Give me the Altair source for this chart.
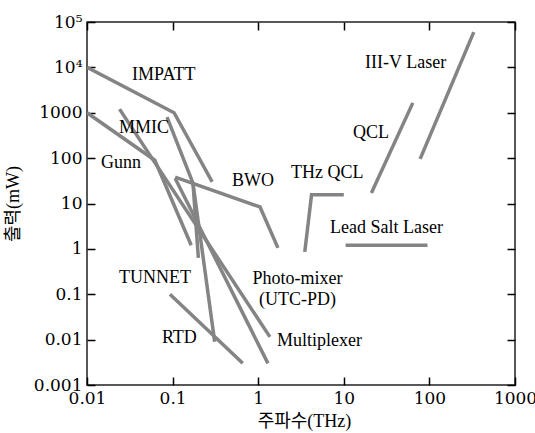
import altair as alt
import pandas as pd

# ---- data (frequency in THz, output power in mW) ----
IMPATT_F = [0.01, 0.104, 0.29]
IMPATT_P = [10000, 1000, 30]
GUNN_F = [0.01, 0.062, 0.165]
GUNN_P = [1000, 90, 1.2]
MULT_F = [0.024, 1.37]
MULT_P = [1200, 0.0115]
MMIC_F = [0.086, 0.173, 0.2]
MMIC_P = [800, 28, 0.63]
BWO_F = [0.107, 1.05, 1.7]
BWO_P = [38, 8.4, 1.05]
PHOTO_F = [0.107, 1.3]
PHOTO_P = [36, 0.003]
RTD_F = [0.173, 0.31]
RTD_P = [28, 0.009]
TUNNET_F = [0.093, 0.66]
TUNNET_P = [0.1, 0.003]
THZQCL_F = [3.5, 4.2, 10]
THZQCL_P = [0.86, 15.5, 15.5]
LEAD_F = [10.5, 95]
LEAD_P = [1.2, 1.2]
QCL_F = [21, 64]
QCL_P = [17, 1650]
IIIV_F = [78, 330]
IIIV_P = [96, 60000]

SERIES = [
    ("IMPATT", IMPATT_F, IMPATT_P),
    ("Gunn", GUNN_F, GUNN_P),
    ("Multiplexer", MULT_F, MULT_P),
    ("MMIC", MMIC_F, MMIC_P),
    ("BWO", BWO_F, BWO_P),
    ("Photo-mixer", PHOTO_F, PHOTO_P),
    ("RTD", RTD_F, RTD_P),
    ("TUNNET", TUNNET_F, TUNNET_P),
    ("THz QCL", THZQCL_F, THZQCL_P),
    ("Lead Salt Laser", LEAD_F, LEAD_P),
    ("QCL", QCL_F, QCL_P),
    ("III-V Laser", IIIV_F, IIIV_P),
]

# left-aligned labels
LBL_TEXT = ["IMPATT", "MMIC", "Gunn", "BWO", "THz QCL", "III-V Laser", "QCL",
            "Lead Salt Laser", "Multiplexer", "TUNNET", "RTD"]
LBL_F = [0.0336, 0.0236, 0.0146, 0.494, 2.42, 17.7, 12.8, 6.9, 1.66, 0.0236, 0.075]
LBL_P = [6800, 462, 78, 31.5, 47, 12500, 359, 2.9, 0.0094, 0.23, 0.011]
# centered labels
CLBL_TEXT = ["Photo-mixer", "(UTC-PD)"]
CLBL_F = [2.88, 2.88]
CLBL_P = [0.218, 0.075]

X_TICKS = [0.01, 0.1, 1, 10, 100, 1000]
Y_TICKS = [0.001, 0.01, 0.1, 1, 10, 100, 1000, 10000, 100000]

rows = []
for name, fs, ps in SERIES:
    for i, (f, p) in enumerate(zip(fs, ps)):
        rows.append({"src": name, "i": i, "f": f, "p": p})
df = pd.DataFrame(rows)
lbl = pd.DataFrame({"t": LBL_TEXT, "f": LBL_F, "p": LBL_P})
clbl = pd.DataFrame({"t": CLBL_TEXT, "f": CLBL_F, "p": CLBL_P})

W, H = 428, 363
TICK_FONT = "DejaVu Serif"
TXT_FONT = "Liberation Serif"
TITLE_FONT = "Liberation Serif, Noto Sans CJK KR"
GRAY = "#848484"

xs = alt.Scale(type="log", domain=[0.01, 1000])
ys = alt.Scale(type="log", domain=[0.001, 100000])

x_main = alt.Axis(orient="bottom", values=X_TICKS, labelExpr="'' + datum.value",
                  ticks=False, tickSize=0, domain=False, grid=False,
                  labelFont=TICK_FONT, labelFontSize=17, labelColor="black",
                  labelPadding=5, labelOverlap=False, labelFlush=False,
                  title="주파수(THz)", titleFont=TITLE_FONT, titleFontSize=18,
                  titleFontWeight="normal", titleColor="black",
                  titleX=217, titleY=36, titleBaseline="middle", titleAlign="center")
y_main = alt.Axis(orient="left", values=Y_TICKS,
                  labelExpr="datum.value == 10000 ? '10\u2074' : datum.value == 100000 ? '10\u2075' : '' + datum.value",
                  ticks=False, tickSize=0, domain=False, grid=False,
                  labelFont=TICK_FONT, labelFontSize=17, labelColor="black",
                  labelPadding=5, labelOverlap=False, labelFlush=False,
                  title="출력(mW)", titleFont=TITLE_FONT, titleFontSize=18,
                  titleFontWeight="normal", titleColor="black",
                  titleX=-74, titleY=H / 2, titleAngle=270,
                  titleBaseline="middle", titleAlign="center")

def tick_axis(orient, values, offset):
    return alt.Axis(orient=orient, offset=offset, values=values, labels=False,
                    ticks=True, tickSize=8, tickWidth=1.5, tickColor="black",
                    domain=False, grid=False, title=None)

lines = alt.Chart(df).mark_line(color=GRAY, strokeWidth=3.5, strokeCap="butt", clip=True).encode(
    x=alt.X("f:Q", scale=xs, axis=x_main),
    y=alt.Y("p:Q", scale=ys, axis=y_main),
    detail="src:N",
    order="i:Q",
)

ticks_a = alt.Chart(df).mark_point(opacity=0).encode(
    x=alt.X("f:Q", scale=xs, axis=tick_axis("top", X_TICKS, -H)),
    y=alt.Y("p:Q", scale=ys, axis=tick_axis("right", Y_TICKS, -W)),
)
ticks_b = alt.Chart(df).mark_point(opacity=0).encode(
    x=alt.X("f:Q", scale=xs, axis=tick_axis("bottom", X_TICKS, -H)),
    y=alt.Y("p:Q", scale=ys, axis=tick_axis("left", Y_TICKS, -W)),
)

labels_l = alt.Chart(lbl).mark_text(align="left", baseline="middle", font=TXT_FONT,
                                    fontSize=18, color="black").encode(
    x=alt.X("f:Q", scale=xs, axis=None),
    y=alt.Y("p:Q", scale=ys, axis=None),
    text="t:N",
)
labels_c = alt.Chart(clbl).mark_text(align="center", baseline="middle", font=TXT_FONT,
                                     fontSize=18, color="black").encode(
    x=alt.X("f:Q", scale=xs, axis=None),
    y=alt.Y("p:Q", scale=ys, axis=None),
    text="t:N",
)

chart = alt.layer(lines, ticks_a, ticks_b, labels_l, labels_c).resolve_axis(
    x="independent", y="independent"
).properties(
    width=W, height=H,
    padding={"left": 87, "top": 22, "right": 20, "bottom": 48},
    autosize=alt.AutoSizeParams(type="none"),
    background="white",
).configure_view(stroke="#222222", strokeWidth=1.5)

chart.save("out.html", embed_options={"renderer": "svg", "actions": False})
